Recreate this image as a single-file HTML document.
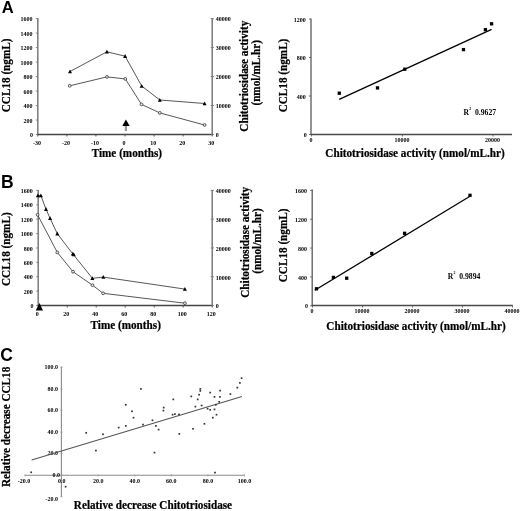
<!DOCTYPE html>
<html><head><meta charset="utf-8"><title>Figure</title>
<style>html,body{margin:0;padding:0;background:#fff;width:520px;height:511px;overflow:hidden}svg{display:block;filter:grayscale(1) blur(0.3px)}</style>
</head><body>
<svg width="520" height="511" viewBox="0 0 520 511">
<style>.s,.ti,.sa{font-weight:bold;fill:#000}.s,.ti{font-family:"Liberation Serif",serif}.sa{font-family:"Liberation Sans",sans-serif}.ti{stroke:#000;stroke-width:0.22px}</style>
<rect width="520" height="511" fill="#fff"/>
<text x="1.80" y="13.10" class="sa" font-size="16.5">A</text>
<text x="0.90" y="187.80" class="sa" font-size="17.5">B</text>
<text x="0.30" y="360.70" class="sa" font-size="17.5">C</text>
<line x1="37.80" y1="18.10" x2="37.80" y2="135.00" stroke="#7a7a7a" stroke-width="1.5"/>
<line x1="37.30" y1="134.50" x2="212.70" y2="134.50" stroke="#454545" stroke-width="1.3"/>
<line x1="212.20" y1="18.10" x2="212.20" y2="135.00" stroke="#7a7a7a" stroke-width="1.5"/>
<line x1="35.80" y1="134.50" x2="37.80" y2="134.50" stroke="#7a7a7a" stroke-width="0.9"/>
<text class="s" font-size="6.0" text-anchor="end" transform="translate(33.00 137.20) scale(1.0 1.08)">0</text>
<line x1="35.80" y1="120.01" x2="37.80" y2="120.01" stroke="#7a7a7a" stroke-width="0.9"/>
<text class="s" font-size="6.0" text-anchor="end" transform="translate(32.40 122.71) scale(1.0 1.08)">200</text>
<line x1="35.80" y1="105.53" x2="37.80" y2="105.53" stroke="#7a7a7a" stroke-width="0.9"/>
<text class="s" font-size="6.0" text-anchor="end" transform="translate(32.40 108.23) scale(1.0 1.08)">400</text>
<line x1="35.80" y1="91.04" x2="37.80" y2="91.04" stroke="#7a7a7a" stroke-width="0.9"/>
<text class="s" font-size="6.0" text-anchor="end" transform="translate(32.40 93.74) scale(1.0 1.08)">600</text>
<line x1="35.80" y1="76.55" x2="37.80" y2="76.55" stroke="#7a7a7a" stroke-width="0.9"/>
<text class="s" font-size="6.0" text-anchor="end" transform="translate(32.40 79.25) scale(1.0 1.08)">800</text>
<line x1="35.80" y1="62.06" x2="37.80" y2="62.06" stroke="#7a7a7a" stroke-width="0.9"/>
<text class="s" font-size="6.0" text-anchor="end" transform="translate(32.40 64.76) scale(1.0 1.08)">1000</text>
<line x1="35.80" y1="47.57" x2="37.80" y2="47.57" stroke="#7a7a7a" stroke-width="0.9"/>
<text class="s" font-size="6.0" text-anchor="end" transform="translate(32.40 50.27) scale(1.0 1.08)">1200</text>
<line x1="35.80" y1="33.09" x2="37.80" y2="33.09" stroke="#7a7a7a" stroke-width="0.9"/>
<text class="s" font-size="6.0" text-anchor="end" transform="translate(32.40 35.79) scale(1.0 1.08)">1400</text>
<line x1="35.80" y1="18.60" x2="37.80" y2="18.60" stroke="#7a7a7a" stroke-width="0.9"/>
<text class="s" font-size="6.0" text-anchor="end" transform="translate(32.40 21.30) scale(1.0 1.08)">1600</text>
<line x1="210.70" y1="134.50" x2="214.00" y2="134.50" stroke="#7a7a7a" stroke-width="0.9"/>
<text class="s" font-size="6.0" transform="translate(215.70 137.30) scale(1.0 1.08)">0</text>
<line x1="210.70" y1="105.53" x2="214.00" y2="105.53" stroke="#7a7a7a" stroke-width="0.9"/>
<text class="s" font-size="6.0" transform="translate(215.70 108.33) scale(1.0 1.08)">10000</text>
<line x1="210.70" y1="76.55" x2="214.00" y2="76.55" stroke="#7a7a7a" stroke-width="0.9"/>
<text class="s" font-size="6.0" transform="translate(215.70 79.35) scale(1.0 1.08)">20000</text>
<line x1="210.70" y1="47.57" x2="214.00" y2="47.57" stroke="#7a7a7a" stroke-width="0.9"/>
<text class="s" font-size="6.0" transform="translate(215.70 50.37) scale(1.0 1.08)">30000</text>
<line x1="210.70" y1="18.60" x2="214.00" y2="18.60" stroke="#7a7a7a" stroke-width="0.9"/>
<text class="s" font-size="6.0" transform="translate(215.70 21.40) scale(1.0 1.08)">40000</text>
<line x1="37.80" y1="134.50" x2="37.80" y2="136.50" stroke="#454545" stroke-width="0.9"/>
<text class="s" font-size="6.0" text-anchor="middle" transform="translate(36.90 144.90) scale(1.0 1.08)">-30</text>
<line x1="66.87" y1="134.50" x2="66.87" y2="136.50" stroke="#454545" stroke-width="0.9"/>
<text class="s" font-size="6.0" text-anchor="middle" transform="translate(65.97 144.90) scale(1.0 1.08)">-20</text>
<line x1="95.93" y1="134.50" x2="95.93" y2="136.50" stroke="#454545" stroke-width="0.9"/>
<text class="s" font-size="6.0" text-anchor="middle" transform="translate(95.03 144.90) scale(1.0 1.08)">-10</text>
<line x1="125.00" y1="134.50" x2="125.00" y2="136.50" stroke="#454545" stroke-width="0.9"/>
<text class="s" font-size="6.0" text-anchor="middle" transform="translate(124.10 144.90) scale(1.0 1.08)">0</text>
<line x1="154.07" y1="134.50" x2="154.07" y2="136.50" stroke="#454545" stroke-width="0.9"/>
<text class="s" font-size="6.0" text-anchor="middle" transform="translate(153.17 144.90) scale(1.0 1.08)">10</text>
<line x1="183.13" y1="134.50" x2="183.13" y2="136.50" stroke="#454545" stroke-width="0.9"/>
<text class="s" font-size="6.0" text-anchor="middle" transform="translate(182.23 144.90) scale(1.0 1.08)">20</text>
<line x1="212.20" y1="134.50" x2="212.20" y2="136.50" stroke="#454545" stroke-width="0.9"/>
<text class="s" font-size="6.0" text-anchor="middle" transform="translate(211.30 144.90) scale(1.0 1.08)">30</text>
<text class="ti" font-size="11.2" text-anchor="middle" transform="translate(126.85 156.50) scale(1.0 1.08)">Time (months)</text>
<text class="ti" font-size="11.2" text-anchor="middle" transform="translate(10.00 75.40) rotate(-90) scale(1.0 1.08)">CCL18 (ngmL)</text>
<text class="ti" font-size="11.2" text-anchor="middle" transform="translate(247.60 76.20) rotate(-90) scale(1.0 1.08)">Chitotriosidase activity</text>
<text class="ti" font-size="11.2" text-anchor="middle" transform="translate(259.90 72.80) rotate(-90) scale(1.0 1.08)">(nmol/mL.hr)</text>
<polyline points="70.00,71.50 106.90,51.80 125.10,56.20 141.70,86.00 159.80,100.00 204.60,103.50" fill="none" stroke="#444" stroke-width="0.9"/>
<polyline points="69.70,85.80 106.90,76.90 125.30,78.90 141.50,104.40 159.80,112.90 204.60,125.00" fill="none" stroke="#444" stroke-width="0.9"/>
<polygon points="70.00,69.41 72.00,73.21 68.00,73.21" fill="#000"/>
<polygon points="106.90,49.71 108.90,53.51 104.90,53.51" fill="#000"/>
<polygon points="125.10,54.11 127.10,57.91 123.10,57.91" fill="#000"/>
<polygon points="141.70,83.91 143.70,87.71 139.70,87.71" fill="#000"/>
<polygon points="159.80,97.91 161.80,101.71 157.80,101.71" fill="#000"/>
<polygon points="204.60,101.41 206.60,105.21 202.60,105.21" fill="#000"/>
<circle cx="69.70" cy="85.80" r="1.4" fill="#eee" stroke="#444" stroke-width="0.9"/>
<circle cx="106.90" cy="76.90" r="1.4" fill="#eee" stroke="#444" stroke-width="0.9"/>
<circle cx="125.30" cy="78.90" r="1.4" fill="#eee" stroke="#444" stroke-width="0.9"/>
<circle cx="141.50" cy="104.40" r="1.4" fill="#eee" stroke="#444" stroke-width="0.9"/>
<circle cx="159.80" cy="112.90" r="1.4" fill="#eee" stroke="#444" stroke-width="0.9"/>
<circle cx="204.60" cy="125.00" r="1.4" fill="#eee" stroke="#444" stroke-width="0.9"/>
<polygon points="125.9,119.4 129.7,126.1 122.3,126.1" fill="#000"/>
<rect x="124.8" y="126" width="2.2" height="5" fill="#999"/>
<line x1="38.20" y1="189.90" x2="38.20" y2="306.00" stroke="#7a7a7a" stroke-width="1.5"/>
<line x1="37.70" y1="305.50" x2="212.70" y2="305.50" stroke="#454545" stroke-width="1.3"/>
<line x1="212.20" y1="189.90" x2="212.20" y2="306.00" stroke="#7a7a7a" stroke-width="1.5"/>
<line x1="36.20" y1="305.50" x2="38.20" y2="305.50" stroke="#7a7a7a" stroke-width="0.9"/>
<text class="s" font-size="6.0" text-anchor="end" transform="translate(33.40 308.20) scale(1.0 1.08)">0</text>
<line x1="36.20" y1="291.11" x2="38.20" y2="291.11" stroke="#7a7a7a" stroke-width="0.9"/>
<text class="s" font-size="6.0" text-anchor="end" transform="translate(32.80 293.81) scale(1.0 1.08)">200</text>
<line x1="36.20" y1="276.73" x2="38.20" y2="276.73" stroke="#7a7a7a" stroke-width="0.9"/>
<text class="s" font-size="6.0" text-anchor="end" transform="translate(32.80 279.43) scale(1.0 1.08)">400</text>
<line x1="36.20" y1="262.34" x2="38.20" y2="262.34" stroke="#7a7a7a" stroke-width="0.9"/>
<text class="s" font-size="6.0" text-anchor="end" transform="translate(32.80 265.04) scale(1.0 1.08)">600</text>
<line x1="36.20" y1="247.95" x2="38.20" y2="247.95" stroke="#7a7a7a" stroke-width="0.9"/>
<text class="s" font-size="6.0" text-anchor="end" transform="translate(32.80 250.65) scale(1.0 1.08)">800</text>
<line x1="36.20" y1="233.56" x2="38.20" y2="233.56" stroke="#7a7a7a" stroke-width="0.9"/>
<text class="s" font-size="6.0" text-anchor="end" transform="translate(32.80 236.26) scale(1.0 1.08)">1000</text>
<line x1="36.20" y1="219.18" x2="38.20" y2="219.18" stroke="#7a7a7a" stroke-width="0.9"/>
<text class="s" font-size="6.0" text-anchor="end" transform="translate(32.80 221.88) scale(1.0 1.08)">1200</text>
<line x1="36.20" y1="204.79" x2="38.20" y2="204.79" stroke="#7a7a7a" stroke-width="0.9"/>
<text class="s" font-size="6.0" text-anchor="end" transform="translate(32.80 207.49) scale(1.0 1.08)">1400</text>
<line x1="36.20" y1="190.40" x2="38.20" y2="190.40" stroke="#7a7a7a" stroke-width="0.9"/>
<text class="s" font-size="6.0" text-anchor="end" transform="translate(32.80 193.10) scale(1.0 1.08)">1600</text>
<line x1="210.70" y1="305.50" x2="214.00" y2="305.50" stroke="#7a7a7a" stroke-width="0.9"/>
<text class="s" font-size="6.0" transform="translate(215.70 308.30) scale(1.0 1.08)">0</text>
<line x1="210.70" y1="276.73" x2="214.00" y2="276.73" stroke="#7a7a7a" stroke-width="0.9"/>
<text class="s" font-size="6.0" transform="translate(215.70 279.53) scale(1.0 1.08)">10000</text>
<line x1="210.70" y1="247.95" x2="214.00" y2="247.95" stroke="#7a7a7a" stroke-width="0.9"/>
<text class="s" font-size="6.0" transform="translate(215.70 250.75) scale(1.0 1.08)">20000</text>
<line x1="210.70" y1="219.18" x2="214.00" y2="219.18" stroke="#7a7a7a" stroke-width="0.9"/>
<text class="s" font-size="6.0" transform="translate(215.70 221.98) scale(1.0 1.08)">30000</text>
<line x1="210.70" y1="190.40" x2="214.00" y2="190.40" stroke="#7a7a7a" stroke-width="0.9"/>
<text class="s" font-size="6.0" transform="translate(215.70 193.20) scale(1.0 1.08)">40000</text>
<line x1="38.20" y1="305.50" x2="38.20" y2="307.50" stroke="#454545" stroke-width="0.9"/>
<text class="s" font-size="6.0" text-anchor="middle" transform="translate(37.30 316.00) scale(1.0 1.08)">0</text>
<line x1="67.20" y1="305.50" x2="67.20" y2="307.50" stroke="#454545" stroke-width="0.9"/>
<text class="s" font-size="6.0" text-anchor="middle" transform="translate(66.30 316.00) scale(1.0 1.08)">20</text>
<line x1="96.20" y1="305.50" x2="96.20" y2="307.50" stroke="#454545" stroke-width="0.9"/>
<text class="s" font-size="6.0" text-anchor="middle" transform="translate(95.30 316.00) scale(1.0 1.08)">40</text>
<line x1="125.20" y1="305.50" x2="125.20" y2="307.50" stroke="#454545" stroke-width="0.9"/>
<text class="s" font-size="6.0" text-anchor="middle" transform="translate(124.30 316.00) scale(1.0 1.08)">60</text>
<line x1="154.20" y1="305.50" x2="154.20" y2="307.50" stroke="#454545" stroke-width="0.9"/>
<text class="s" font-size="6.0" text-anchor="middle" transform="translate(153.30 316.00) scale(1.0 1.08)">80</text>
<line x1="183.20" y1="305.50" x2="183.20" y2="307.50" stroke="#454545" stroke-width="0.9"/>
<text class="s" font-size="6.0" text-anchor="middle" transform="translate(182.30 316.00) scale(1.0 1.08)">100</text>
<line x1="212.20" y1="305.50" x2="212.20" y2="307.50" stroke="#454545" stroke-width="0.9"/>
<text class="s" font-size="6.0" text-anchor="middle" transform="translate(211.30 316.00) scale(1.0 1.08)">120</text>
<text class="ti" font-size="11.2" text-anchor="middle" transform="translate(125.70 328.60) scale(1.0 1.08)">Time (months)</text>
<text class="ti" font-size="11.2" text-anchor="middle" transform="translate(10.00 249.20) rotate(-90) scale(1.0 1.08)">CCL18 (ngmL)</text>
<text class="ti" font-size="11.2" text-anchor="middle" transform="translate(248.70 242.30) rotate(-90) scale(1.0 1.08)">Chitotriosidase activity</text>
<text class="ti" font-size="11.2" text-anchor="middle" transform="translate(261.30 241.00) rotate(-90) scale(1.0 1.08)">(nmol/mL.hr)</text>
<polyline points="37.90,195.60 40.90,195.60 46.00,209.20 50.10,218.40 57.30,233.70 72.80,253.90 92.40,278.30 103.30,277.10 184.90,289.10" fill="none" stroke="#444" stroke-width="0.9"/>
<polyline points="37.60,214.80 57.30,252.40 73.00,271.70 92.50,285.20 103.10,293.30 184.90,303.20" fill="none" stroke="#444" stroke-width="0.9"/>
<polygon points="37.90,193.51 39.90,197.31 35.90,197.31" fill="#000"/>
<polygon points="40.90,193.51 42.90,197.31 38.90,197.31" fill="#000"/>
<polygon points="46.00,207.11 48.00,210.91 44.00,210.91" fill="#000"/>
<polygon points="50.10,216.31 52.10,220.11 48.10,220.11" fill="#000"/>
<polygon points="57.30,231.61 59.30,235.41 55.30,235.41" fill="#000"/>
<polygon points="72.80,251.81 74.80,255.61 70.80,255.61" fill="#000"/>
<polygon points="92.40,276.21 94.40,280.01 90.40,280.01" fill="#000"/>
<polygon points="103.30,275.01 105.30,278.81 101.30,278.81" fill="#000"/>
<polygon points="184.90,287.01 186.90,290.81 182.90,290.81" fill="#000"/>
<polygon points="73.80,252.51 75.80,256.31 71.80,256.31" fill="#000"/>
<circle cx="37.60" cy="214.80" r="1.4" fill="#eee" stroke="#444" stroke-width="0.9"/>
<circle cx="57.30" cy="252.40" r="1.4" fill="#eee" stroke="#444" stroke-width="0.9"/>
<circle cx="73.00" cy="271.70" r="1.4" fill="#eee" stroke="#444" stroke-width="0.9"/>
<circle cx="92.50" cy="285.20" r="1.4" fill="#eee" stroke="#444" stroke-width="0.9"/>
<circle cx="103.10" cy="293.30" r="1.4" fill="#eee" stroke="#444" stroke-width="0.9"/>
<circle cx="184.90" cy="303.20" r="1.4" fill="#eee" stroke="#444" stroke-width="0.9"/>
<polygon points="39.4,303.1 43.0,310.4 35.8,310.4" fill="#000"/>
<line x1="311.00" y1="18.50" x2="311.00" y2="135.00" stroke="#5a5a5a" stroke-width="1.3"/>
<line x1="310.50" y1="134.50" x2="512.00" y2="134.50" stroke="#4a4a4a" stroke-width="1.3"/>
<line x1="309.00" y1="134.50" x2="311.00" y2="134.50" stroke="#5a5a5a" stroke-width="0.9"/>
<text class="s" font-size="6.0" text-anchor="end" transform="translate(306.70 137.10) scale(1.0 1.08)">0</text>
<line x1="309.00" y1="96.00" x2="311.00" y2="96.00" stroke="#5a5a5a" stroke-width="0.9"/>
<text class="s" font-size="6.0" text-anchor="end" transform="translate(305.80 98.60) scale(1.0 1.08)">400</text>
<line x1="309.00" y1="57.50" x2="311.00" y2="57.50" stroke="#5a5a5a" stroke-width="0.9"/>
<text class="s" font-size="6.0" text-anchor="end" transform="translate(305.80 60.10) scale(1.0 1.08)">800</text>
<line x1="309.00" y1="19.00" x2="311.00" y2="19.00" stroke="#5a5a5a" stroke-width="0.9"/>
<text class="s" font-size="6.0" text-anchor="end" transform="translate(305.80 21.60) scale(1.0 1.08)">1200</text>
<line x1="311.50" y1="134.50" x2="311.50" y2="136.50" stroke="#5a5a5a" stroke-width="0.9"/>
<text class="s" font-size="6.0" text-anchor="middle" transform="translate(311.00 142.00) scale(1.0 1.08)">0</text>
<line x1="402.40" y1="134.50" x2="402.40" y2="136.50" stroke="#5a5a5a" stroke-width="0.9"/>
<text class="s" font-size="6.0" text-anchor="middle" transform="translate(401.90 142.00) scale(1.0 1.08)">10000</text>
<line x1="493.00" y1="134.50" x2="493.00" y2="136.50" stroke="#5a5a5a" stroke-width="0.9"/>
<text class="s" font-size="6.0" text-anchor="middle" transform="translate(492.50 142.00) scale(1.0 1.08)">20000</text>
<line x1="339.20" y1="99.40" x2="491.60" y2="29.30" stroke="#000" stroke-width="1.3"/>
<rect x="337.65" y="91.55" width="3.3" height="3.3" fill="#000"/>
<rect x="375.85" y="86.25" width="3.3" height="3.3" fill="#000"/>
<rect x="403.15" y="67.55" width="3.3" height="3.3" fill="#000"/>
<rect x="461.85" y="47.95" width="3.3" height="3.3" fill="#000"/>
<rect x="483.75" y="28.05" width="3.3" height="3.3" fill="#000"/>
<rect x="489.95" y="22.15" width="3.3" height="3.3" fill="#000"/>
<text x="463.60" y="114.60" class="s" font-size="7.6">R</text>
<text x="469.20" y="109.70" class="s" font-size="3.8">2</text>
<text x="475.00" y="114.60" class="s" font-size="7.7">0.9627</text>
<text class="ti" font-size="11.2" text-anchor="middle" transform="translate(415.00 157.10) scale(1.0 1.08)">Chitotriosidase activity (nmol/mL.hr)</text>
<text class="ti" font-size="11.2" text-anchor="middle" transform="translate(286.70 75.50) rotate(-90) scale(1.0 1.08)">CCL18 (ngmL)</text>
<line x1="312.20" y1="189.50" x2="312.20" y2="306.00" stroke="#5a5a5a" stroke-width="1.3"/>
<line x1="311.70" y1="305.50" x2="512.80" y2="305.50" stroke="#4a4a4a" stroke-width="1.3"/>
<line x1="310.20" y1="305.80" x2="312.20" y2="305.80" stroke="#5a5a5a" stroke-width="0.9"/>
<text class="s" font-size="6.0" text-anchor="end" transform="translate(307.90 308.40) scale(1.0 1.08)">0</text>
<line x1="310.20" y1="276.95" x2="312.20" y2="276.95" stroke="#5a5a5a" stroke-width="0.9"/>
<text class="s" font-size="6.0" text-anchor="end" transform="translate(307.00 279.55) scale(1.0 1.08)">400</text>
<line x1="310.20" y1="248.10" x2="312.20" y2="248.10" stroke="#5a5a5a" stroke-width="0.9"/>
<text class="s" font-size="6.0" text-anchor="end" transform="translate(307.00 250.70) scale(1.0 1.08)">800</text>
<line x1="310.20" y1="219.25" x2="312.20" y2="219.25" stroke="#5a5a5a" stroke-width="0.9"/>
<text class="s" font-size="6.0" text-anchor="end" transform="translate(307.00 221.85) scale(1.0 1.08)">1200</text>
<line x1="310.20" y1="190.40" x2="312.20" y2="190.40" stroke="#5a5a5a" stroke-width="0.9"/>
<text class="s" font-size="6.0" text-anchor="end" transform="translate(307.00 193.00) scale(1.0 1.08)">1600</text>
<line x1="312.50" y1="305.50" x2="312.50" y2="307.50" stroke="#5a5a5a" stroke-width="0.9"/>
<text class="s" font-size="6.0" text-anchor="middle" transform="translate(312.00 313.00) scale(1.0 1.08)">0</text>
<line x1="362.50" y1="305.50" x2="362.50" y2="307.50" stroke="#5a5a5a" stroke-width="0.9"/>
<text class="s" font-size="6.0" text-anchor="middle" transform="translate(362.00 313.00) scale(1.0 1.08)">10000</text>
<line x1="412.50" y1="305.50" x2="412.50" y2="307.50" stroke="#5a5a5a" stroke-width="0.9"/>
<text class="s" font-size="6.0" text-anchor="middle" transform="translate(412.00 313.00) scale(1.0 1.08)">20000</text>
<line x1="462.50" y1="305.50" x2="462.50" y2="307.50" stroke="#5a5a5a" stroke-width="0.9"/>
<text class="s" font-size="6.0" text-anchor="middle" transform="translate(462.00 313.00) scale(1.0 1.08)">30000</text>
<line x1="512.50" y1="305.50" x2="512.50" y2="307.50" stroke="#5a5a5a" stroke-width="0.9"/>
<text class="s" font-size="6.0" text-anchor="middle" transform="translate(512.00 313.00) scale(1.0 1.08)">40000</text>
<line x1="314.80" y1="290.30" x2="470.00" y2="196.20" stroke="#000" stroke-width="1.3"/>
<rect x="314.85" y="287.15" width="3.3" height="3.3" fill="#000"/>
<rect x="331.75" y="275.75" width="3.3" height="3.3" fill="#000"/>
<rect x="345.05" y="276.55" width="3.3" height="3.3" fill="#000"/>
<rect x="370.15" y="251.85" width="3.3" height="3.3" fill="#000"/>
<rect x="402.95" y="231.65" width="3.3" height="3.3" fill="#000"/>
<rect x="468.35" y="193.65" width="3.3" height="3.3" fill="#000"/>
<text x="447.80" y="278.50" class="s" font-size="7.6">R</text>
<text x="453.40" y="273.60" class="s" font-size="3.8">2</text>
<text x="459.20" y="278.50" class="s" font-size="7.7">0.9894</text>
<text class="ti" font-size="11.2" text-anchor="middle" transform="translate(416.00 329.90) scale(1.0 1.08)">Chitotriosidase activity (nmol/mL.hr)</text>
<text class="ti" font-size="11.2" text-anchor="middle" transform="translate(286.70 245.40) rotate(-90) scale(1.0 1.08)">CCL18 (ngmL)</text>
<line x1="61.40" y1="366.60" x2="61.40" y2="496.80" stroke="#8a8a8a" stroke-width="1.1"/>
<line x1="24.50" y1="475.20" x2="245.00" y2="475.20" stroke="#8a8a8a" stroke-width="1.1"/>
<line x1="60.40" y1="496.75" x2="62.50" y2="496.75" stroke="#999" stroke-width="0.8"/>
<text class="s" font-size="6.0" text-anchor="end" transform="translate(58.10 500.85) scale(1.0 1.08)">-20.0</text>
<line x1="25.15" y1="474.40" x2="25.15" y2="476.50" stroke="#999" stroke-width="0.8"/>
<text class="s" font-size="6.0" text-anchor="middle" transform="translate(23.95 482.60) scale(1.0 1.08)">-20.0</text>
<line x1="60.40" y1="475.20" x2="62.50" y2="475.20" stroke="#999" stroke-width="0.8"/>
<text class="s" font-size="6.0" text-anchor="end" transform="translate(60.10 476.70) scale(1.0 1.08)">0.0</text>
<line x1="61.70" y1="474.40" x2="61.70" y2="476.50" stroke="#999" stroke-width="0.8"/>
<text class="s" font-size="6.0" text-anchor="middle" transform="translate(61.70 482.60) scale(1.0 1.08)">0.0</text>
<line x1="60.40" y1="453.65" x2="62.50" y2="453.65" stroke="#999" stroke-width="0.8"/>
<text class="s" font-size="6.0" text-anchor="end" transform="translate(58.10 455.15) scale(1.0 1.08)">20.0</text>
<line x1="98.25" y1="474.40" x2="98.25" y2="476.50" stroke="#999" stroke-width="0.8"/>
<text class="s" font-size="6.0" text-anchor="middle" transform="translate(98.25 482.60) scale(1.0 1.08)">20.0</text>
<line x1="60.40" y1="432.10" x2="62.50" y2="432.10" stroke="#999" stroke-width="0.8"/>
<text class="s" font-size="6.0" text-anchor="end" transform="translate(58.10 433.60) scale(1.0 1.08)">40.0</text>
<line x1="134.80" y1="474.40" x2="134.80" y2="476.50" stroke="#999" stroke-width="0.8"/>
<text class="s" font-size="6.0" text-anchor="middle" transform="translate(134.80 482.60) scale(1.0 1.08)">40.0</text>
<line x1="60.40" y1="410.55" x2="62.50" y2="410.55" stroke="#999" stroke-width="0.8"/>
<text class="s" font-size="6.0" text-anchor="end" transform="translate(58.10 412.05) scale(1.0 1.08)">60.0</text>
<line x1="171.35" y1="474.40" x2="171.35" y2="476.50" stroke="#999" stroke-width="0.8"/>
<text class="s" font-size="6.0" text-anchor="middle" transform="translate(171.35 482.60) scale(1.0 1.08)">60.0</text>
<line x1="60.40" y1="389.00" x2="62.50" y2="389.00" stroke="#999" stroke-width="0.8"/>
<text class="s" font-size="6.0" text-anchor="end" transform="translate(58.10 390.50) scale(1.0 1.08)">80.0</text>
<line x1="207.90" y1="474.40" x2="207.90" y2="476.50" stroke="#999" stroke-width="0.8"/>
<text class="s" font-size="6.0" text-anchor="middle" transform="translate(207.90 482.60) scale(1.0 1.08)">80.0</text>
<line x1="60.40" y1="367.45" x2="62.50" y2="367.45" stroke="#999" stroke-width="0.8"/>
<text class="s" font-size="6.0" text-anchor="end" transform="translate(58.10 368.95) scale(1.0 1.08)">100.0</text>
<line x1="244.45" y1="474.40" x2="244.45" y2="476.50" stroke="#999" stroke-width="0.8"/>
<text class="s" font-size="6.0" text-anchor="middle" transform="translate(244.45 482.60) scale(1.0 1.08)">100.0</text>
<line x1="31.60" y1="460.00" x2="242.00" y2="396.50" stroke="#555" stroke-width="1.1"/>
<rect x="30.35" y="471.45" width="1.7" height="1.7" fill="#333"/>
<rect x="64.75" y="485.85" width="1.7" height="1.7" fill="#333"/>
<rect x="85.35" y="431.95" width="1.7" height="1.7" fill="#333"/>
<rect x="95.05" y="449.75" width="1.7" height="1.7" fill="#333"/>
<rect x="102.15" y="433.45" width="1.7" height="1.7" fill="#333"/>
<rect x="117.85" y="426.75" width="1.7" height="1.7" fill="#333"/>
<rect x="124.95" y="425.05" width="1.7" height="1.7" fill="#333"/>
<rect x="124.95" y="403.95" width="1.7" height="1.7" fill="#333"/>
<rect x="131.15" y="410.45" width="1.7" height="1.7" fill="#333"/>
<rect x="132.65" y="416.85" width="1.7" height="1.7" fill="#333"/>
<rect x="140.05" y="388.05" width="1.7" height="1.7" fill="#333"/>
<rect x="142.15" y="423.75" width="1.7" height="1.7" fill="#333"/>
<rect x="151.65" y="419.45" width="1.7" height="1.7" fill="#333"/>
<rect x="155.05" y="425.05" width="1.7" height="1.7" fill="#333"/>
<rect x="157.75" y="428.75" width="1.7" height="1.7" fill="#333"/>
<rect x="153.65" y="451.75" width="1.7" height="1.7" fill="#333"/>
<rect x="162.55" y="409.75" width="1.7" height="1.7" fill="#333"/>
<rect x="162.85" y="406.75" width="1.7" height="1.7" fill="#333"/>
<rect x="172.45" y="398.55" width="1.7" height="1.7" fill="#333"/>
<rect x="171.75" y="413.85" width="1.7" height="1.7" fill="#333"/>
<rect x="174.05" y="413.25" width="1.7" height="1.7" fill="#333"/>
<rect x="178.15" y="413.55" width="1.7" height="1.7" fill="#333"/>
<rect x="178.45" y="433.05" width="1.7" height="1.7" fill="#333"/>
<rect x="190.45" y="395.55" width="1.7" height="1.7" fill="#333"/>
<rect x="192.15" y="427.95" width="1.7" height="1.7" fill="#333"/>
<rect x="194.55" y="405.75" width="1.7" height="1.7" fill="#333"/>
<rect x="196.85" y="398.55" width="1.7" height="1.7" fill="#333"/>
<rect x="198.25" y="393.85" width="1.7" height="1.7" fill="#333"/>
<rect x="199.45" y="390.05" width="1.7" height="1.7" fill="#333"/>
<rect x="199.45" y="388.05" width="1.7" height="1.7" fill="#333"/>
<rect x="200.75" y="404.65" width="1.7" height="1.7" fill="#333"/>
<rect x="203.55" y="422.95" width="1.7" height="1.7" fill="#333"/>
<rect x="206.75" y="407.85" width="1.7" height="1.7" fill="#333"/>
<rect x="209.35" y="391.75" width="1.7" height="1.7" fill="#333"/>
<rect x="209.35" y="408.95" width="1.7" height="1.7" fill="#333"/>
<rect x="211.95" y="416.85" width="1.7" height="1.7" fill="#333"/>
<rect x="213.65" y="396.05" width="1.7" height="1.7" fill="#333"/>
<rect x="213.65" y="408.55" width="1.7" height="1.7" fill="#333"/>
<rect x="214.95" y="403.95" width="1.7" height="1.7" fill="#333"/>
<rect x="215.65" y="413.85" width="1.7" height="1.7" fill="#333"/>
<rect x="218.35" y="400.95" width="1.7" height="1.7" fill="#333"/>
<rect x="219.05" y="396.05" width="1.7" height="1.7" fill="#333"/>
<rect x="219.25" y="389.75" width="1.7" height="1.7" fill="#333"/>
<rect x="229.55" y="393.25" width="1.7" height="1.7" fill="#333"/>
<rect x="236.45" y="386.75" width="1.7" height="1.7" fill="#333"/>
<rect x="239.05" y="382.05" width="1.7" height="1.7" fill="#333"/>
<rect x="240.75" y="377.35" width="1.7" height="1.7" fill="#333"/>
<rect x="214.15" y="471.75" width="1.7" height="1.7" fill="#333"/>
<text class="ti" font-size="11.2" text-anchor="middle" transform="translate(152.95 509.20) scale(1.0 1.08)">Relative decrease Chitotriosidase</text>
<text class="ti" font-size="11.2" text-anchor="middle" transform="translate(10.20 426.90) rotate(-90) scale(1.0 1.08)">Relative decrease CCL18</text>
</svg>
</body></html>
